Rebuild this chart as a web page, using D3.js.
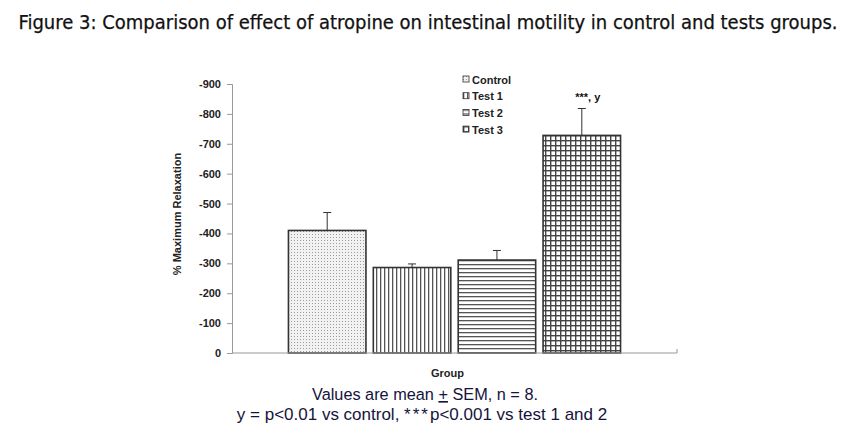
<!DOCTYPE html>
<html><head><meta charset="utf-8">
<script src="https://cdn.jsdelivr.net/npm/d3@7"></script>
<style>body{margin:0;background:#fff}</style>
</head><body>
<svg id="c" width="855" height="444"></svg>
<script>
const series = ["Control", "Test 1", "Test 2", "Test 3"];
const means = [410, 286, 311, 728];
const sems = [60, 12, 32, 90];
const yTicks = [0, 100, 200, 300, 400, 500, 600, 700, 800, 900];
const category = "Group";
const annotations = ["", "", "", "***, y"];

const svg = d3.select("#c");
const mLeft = 232, mRight = 677, mTop = 84, mBottom = 353;
const AR = "Arial, Liberation Sans, sans-serif";

svg.append("text").attr("x", 428).attr("y", 29).attr("text-anchor", "middle")
  .attr("font-family", "Liberation Sans Narrow, DejaVu Sans Condensed, Arial, sans-serif")
  .attr("font-size", 20).attr("fill", "#111").attr("stroke", "#111").attr("stroke-width", 0.25)
  .text("Figure 3: Comparison of effect of atropine on intestinal motility in control and tests groups.");

const defs = svg.append("defs");
const p0 = defs.append("pattern").attr("id","p0").attr("width",3).attr("height",3).attr("patternUnits","userSpaceOnUse");
p0.append("rect").attr("width",3).attr("height",3).attr("fill","#f2f2f2");
p0.append("rect").attr("width",1).attr("height",1).attr("fill","#9a9a9a");
const p1 = defs.append("pattern").attr("id","p1").attr("width",4).attr("height",4).attr("patternUnits","userSpaceOnUse");
p1.append("rect").attr("width",4).attr("height",4).attr("fill","#fff");
p1.append("rect").attr("x",0).attr("width",1.3).attr("height",4).attr("fill","#555");
const p2 = defs.append("pattern").attr("id","p2").attr("width",4).attr("height",4).attr("patternUnits","userSpaceOnUse");
p2.append("rect").attr("width",4).attr("height",4).attr("fill","#fff");
p2.append("rect").attr("y",0).attr("width",4).attr("height",1.3).attr("fill","#555");
const p3 = defs.append("pattern").attr("id","p3").attr("width",5).attr("height",5).attr("patternUnits","userSpaceOnUse");
p3.append("rect").attr("width",5).attr("height",5).attr("fill","#fff");
p3.append("rect").attr("x",0).attr("width",1.4).attr("height",5).attr("fill","#444");
p3.append("rect").attr("y",0).attr("width",5).attr("height",1.4).attr("fill","#444");

const y = d3.scaleLinear().domain([0, 900]).range([mBottom, mTop]);
const xOuter = d3.scaleBand().domain([category]).range([mLeft, mRight]).paddingInner(0).paddingOuter(0.17);
const x = d3.scaleBand().domain(series).range([xOuter(category), xOuter(category) + xOuter.bandwidth()]).paddingInner(0.087);

const yAxis = svg.append("g").attr("transform", `translate(${mLeft},0)`)
  .call(d3.axisLeft(y).tickValues(yTicks).tickSize(5).tickPadding(6).tickFormat(d => d === 0 ? "0" : "-" + d));
yAxis.select(".domain").attr("stroke", "#999");
yAxis.selectAll(".tick line").attr("stroke", "#999");
yAxis.selectAll("text").attr("font-family", AR).attr("font-size", 11).attr("font-weight", "bold").attr("fill", "#222");

const pats = ["url(#p0)", "url(#p1)", "url(#p2)", "url(#p3)"];
svg.append("g").selectAll("rect").data(series).join("rect")
  .attr("x", d => x(d)).attr("width", x.bandwidth())
  .attr("y", (d, i) => y(means[i])).attr("height", (d, i) => y(0) - y(means[i]))
  .attr("fill", (d, i) => pats[i]).attr("stroke", "#333").attr("stroke-width", 1.6);

const eg = svg.append("g").attr("stroke", "#333").attr("stroke-width", 1);
series.forEach((s, i) => {
  const cx = x(s) + x.bandwidth() / 2;
  eg.append("line").attr("x1", cx).attr("x2", cx).attr("y1", y(means[i])).attr("y2", y(means[i] + sems[i]));
  eg.append("line").attr("x1", cx - 4).attr("x2", cx + 4).attr("y1", y(means[i] + sems[i])).attr("y2", y(means[i] + sems[i]));
  if (annotations[i]) {
    svg.append("text").attr("x", cx + 6).attr("y", y(means[i] + sems[i]) - 8).attr("text-anchor", "middle")
      .attr("font-family", AR).attr("font-size", 11).attr("font-weight", "bold").attr("fill", "#111")
      .text(annotations[i]);
  }
});

const xa = svg.append("g");
xa.append("line").attr("x1", mLeft).attr("x2", mRight).attr("y1", mBottom).attr("y2", mBottom).attr("stroke", "#999");
xa.append("line").attr("x1", mRight).attr("x2", mRight).attr("y1", mBottom).attr("y2", mBottom - 4).attr("stroke", "#999");

svg.append("text").attr("x", xOuter(category) + xOuter.bandwidth() / 2 - 7).attr("y", 377).attr("text-anchor", "middle")
  .attr("font-family", AR).attr("font-size", 11).attr("font-weight", "bold").attr("fill", "#222")
  .text(category);
svg.append("text").attr("transform", "translate(181,214) rotate(-90)").attr("text-anchor", "middle")
  .attr("font-family", AR).attr("font-size", 11).attr("font-weight", "bold").attr("fill", "#222")
  .text("% Maximum Relaxation");

const lg = svg.append("g").attr("transform", "translate(463,76)");
series.forEach((s, i) => {
  const g = lg.append("g").attr("transform", `translate(0,${i * 16.7})`);
  g.append("rect").attr("x", 0).attr("y", 0).attr("width", 6).attr("height", 6).attr("fill", pats[i]).attr("stroke", "#333").attr("stroke-width", 0.8);
  g.append("text").attr("x", 9).attr("y", 7.5).attr("font-family", AR)
    .attr("font-size", 11).attr("font-weight", "bold").attr("fill", "#222").text(s);
});

const f1 = svg.append("text").attr("x", 425).attr("y", 400).attr("text-anchor", "middle")
  .attr("font-family", AR).attr("font-size", 16.3).attr("fill", "#14143c");
f1.append("tspan").text("Values are mean ");
f1.append("tspan").attr("text-decoration", "underline").text("+");
f1.append("tspan").text(" SEM, n = 8.");
const f2 = svg.append("text").attr("x", 422).attr("y", 420).attr("text-anchor", "middle")
  .attr("font-family", AR).attr("font-size", 17).attr("fill", "#14143c");
f2.append("tspan").text("y = p<0.01 vs control, ");
f2.append("tspan").attr("letter-spacing", 2).text("***");
f2.append("tspan").text("p<0.001 vs test 1 and 2");
</script>
</body></html>
